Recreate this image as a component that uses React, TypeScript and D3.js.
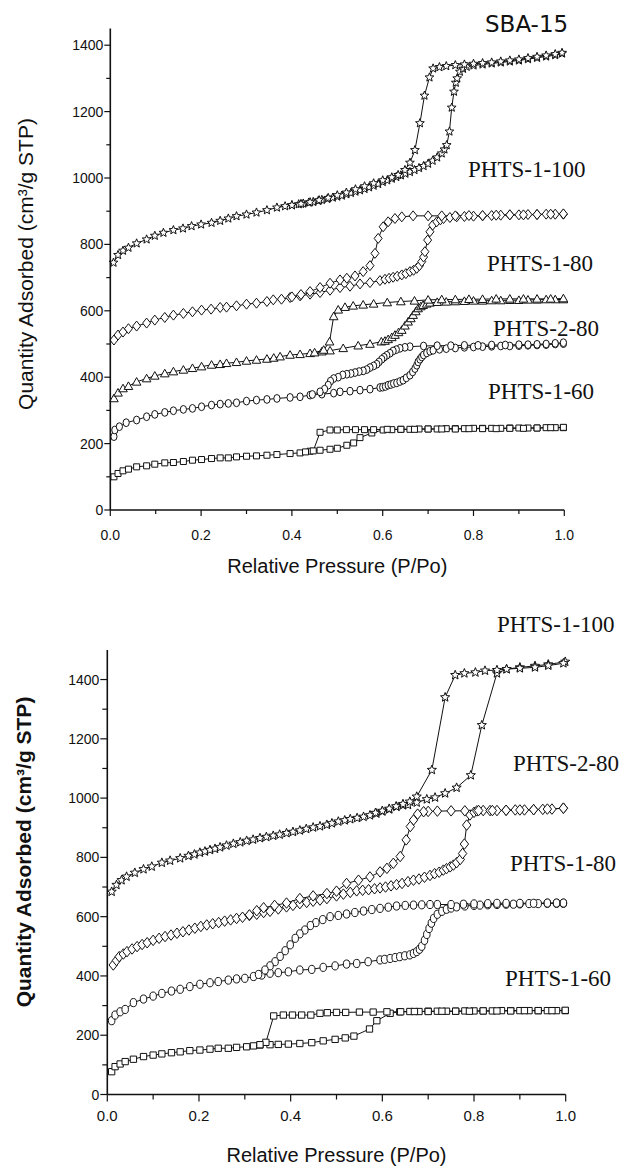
import React from "react";
import * as d3 from "d3";

type Pt = [number, number];

// ---------- Top panel (SBA-15) ----------
const topStarAds: Pt[] = [[0.007,745],[0.017,768],[0.028,781],[0.04,790],[0.058,803],[0.08,815],[0.098,826],[0.117,835],[0.139,843],[0.16,848],[0.179,855],[0.2,860],[0.223,865],[0.242,871],[0.26,878],[0.278,885],[0.3,890],[0.322,896],[0.345,903],[0.367,911],[0.385,915],[0.4,918],[0.415,921],[0.425,923],[0.437,926],[0.447,928],[0.458,931],[0.466,934],[0.478,937],[0.49,941],[0.5,944],[0.51,947],[0.52,951],[0.53,955],[0.54,959],[0.55,963],[0.56,967],[0.57,972],[0.58,977],[0.59,982],[0.6,988],[0.61,993],[0.62,998],[0.63,1003],[0.64,1008],[0.65,1013],[0.66,1018],[0.67,1024],[0.68,1030],[0.69,1036],[0.7,1043],[0.71,1052],[0.72,1062],[0.73,1074],[0.736,1086],[0.741,1099],[0.747,1140],[0.752,1212],[0.757,1260],[0.761,1287],[0.764,1300],[0.77,1320],[0.777,1329],[0.785,1335],[0.8,1339],[0.82,1342],[0.84,1345],[0.86,1348],[0.88,1351],[0.9,1354],[0.92,1358],[0.94,1362],[0.96,1366],[0.98,1370],[0.995,1375]];
const topStarDes: Pt[] = [[0.995,1377],[0.98,1373],[0.96,1369],[0.94,1365],[0.92,1361],[0.9,1357],[0.88,1354],[0.86,1351],[0.84,1348],[0.82,1346],[0.8,1344],[0.78,1342],[0.76,1340],[0.74,1337],[0.725,1334],[0.711,1330],[0.703,1303],[0.692,1248],[0.682,1165],[0.671,1084],[0.66,1046],[0.649,1024],[0.634,1009],[0.62,1002],[0.6,993],[0.58,984],[0.56,975],[0.54,966],[0.52,956],[0.5,948],[0.48,940],[0.46,933],[0.44,927],[0.42,922],[0.4,918]];

const topDiaAds: Pt[] = [[0.008,512],[0.017,527],[0.028,536],[0.04,546],[0.058,554],[0.08,563],[0.098,572],[0.12,580],[0.139,587],[0.161,592],[0.181,597],[0.201,602],[0.222,605],[0.242,610],[0.256,611],[0.278,615],[0.3,620],[0.322,623],[0.345,628],[0.359,633],[0.377,635],[0.396,640],[0.418,645],[0.44,650],[0.462,655],[0.484,662],[0.506,670],[0.528,674],[0.55,681],[0.572,685],[0.594,691],[0.605,695],[0.614,698],[0.623,701],[0.632,704],[0.642,708],[0.651,712],[0.66,718],[0.668,722],[0.675,728],[0.681,736],[0.686,748],[0.69,762],[0.693,778],[0.699,813],[0.704,838],[0.71,858],[0.719,868],[0.727,874],[0.734,878],[0.748,881],[0.763,883],[0.78,884],[0.8,885],[0.82,886],[0.84,887],[0.86,888],[0.88,889],[0.9,889],[0.92,890],[0.94,890],[0.96,891],[0.98,891],[0.998,891]];
const topDiaDes: Pt[] = [[0.998,892],[0.97,891],[0.94,890],[0.91,889],[0.88,889],[0.85,888],[0.82,887],[0.79,887],[0.76,886],[0.73,886],[0.7,886],[0.667,886],[0.642,883],[0.627,878],[0.612,868],[0.601,853],[0.59,818],[0.583,773],[0.572,736],[0.557,718],[0.539,705],[0.521,698],[0.506,693],[0.484,683],[0.462,670],[0.44,658],[0.42,649],[0.4,642]];

const topTriAds: Pt[] = [[0.008,336],[0.017,353],[0.028,366],[0.04,373],[0.058,386],[0.08,396],[0.098,404],[0.12,411],[0.139,417],[0.161,422],[0.181,427],[0.201,432],[0.223,437],[0.242,439],[0.256,442],[0.278,445],[0.3,449],[0.322,452],[0.345,455],[0.36,458],[0.374,462],[0.396,467],[0.418,469],[0.44,472],[0.466,477],[0.484,480],[0.513,487],[0.546,495],[0.572,500],[0.597,507],[0.605,509],[0.612,514],[0.62,520],[0.627,527],[0.635,535],[0.642,542],[0.649,555],[0.656,567],[0.662,577],[0.667,587],[0.673,598],[0.678,607],[0.684,613],[0.689,617],[0.697,621],[0.704,624],[0.72,626],[0.74,627],[0.76,628],[0.78,629],[0.8,630],[0.82,630],[0.84,631],[0.86,631],[0.88,632],[0.9,632],[0.92,633],[0.94,633],[0.96,634],[0.98,634],[0.998,634]];
const topTriDes: Pt[] = [[0.998,637],[0.97,636],[0.94,636],[0.91,636],[0.88,636],[0.85,636],[0.82,635],[0.79,635],[0.76,634],[0.73,634],[0.7,633],[0.67,630],[0.64,628],[0.61,625],[0.58,621],[0.557,618],[0.535,615],[0.517,611],[0.502,603],[0.492,583],[0.483,507],[0.47,482],[0.45,474]];

const topCirAds: Pt[] = [[0.008,221],[0.01,241],[0.02,251],[0.035,263],[0.058,271],[0.08,281],[0.098,288],[0.12,294],[0.139,299],[0.161,303],[0.181,306],[0.201,311],[0.223,316],[0.242,319],[0.26,321],[0.278,323],[0.3,328],[0.322,331],[0.345,333],[0.367,336],[0.396,339],[0.418,341],[0.44,346],[0.466,349],[0.492,352],[0.506,356],[0.528,358],[0.55,361],[0.572,364],[0.594,369],[0.6,370],[0.606,372],[0.612,376],[0.618,378],[0.624,381],[0.631,383],[0.638,387],[0.645,391],[0.652,398],[0.66,406],[0.666,416],[0.671,426],[0.675,436],[0.678,446],[0.682,454],[0.686,461],[0.69,467],[0.697,473],[0.704,478],[0.711,481],[0.725,484],[0.74,486],[0.76,488],[0.78,490],[0.8,491],[0.82,492],[0.84,493],[0.86,494],[0.88,494],[0.9,495],[0.92,496],[0.94,497],[0.96,498],[0.98,500],[0.998,501]];
const topCirDes: Pt[] = [[0.998,504],[0.98,502],[0.96,500],[0.94,499],[0.92,498],[0.9,498],[0.87,497],[0.84,497],[0.81,496],[0.78,496],[0.75,495],[0.72,495],[0.69,494],[0.66,492],[0.649,490],[0.638,487],[0.63,483],[0.623,479],[0.616,472],[0.609,466],[0.603,460],[0.598,454],[0.592,446],[0.587,439],[0.58,434],[0.572,429],[0.565,423],[0.557,419],[0.548,417],[0.539,414],[0.53,411],[0.521,409],[0.512,407],[0.502,400],[0.492,396],[0.485,388],[0.48,376],[0.472,364],[0.462,356],[0.445,348]];

const topSqAds: Pt[] = [[0.008,100],[0.017,110],[0.028,118],[0.04,123],[0.058,130],[0.08,133],[0.098,138],[0.12,142],[0.139,143],[0.161,146],[0.181,150],[0.201,152],[0.223,155],[0.242,157],[0.26,157],[0.278,160],[0.3,162],[0.322,163],[0.345,165],[0.367,167],[0.396,170],[0.418,172],[0.44,177],[0.462,180],[0.484,183],[0.5,186],[0.521,195],[0.536,202],[0.55,218],[0.576,232],[0.601,241],[0.62,242],[0.64,243],[0.66,243],[0.68,244],[0.7,244],[0.72,244],[0.74,245],[0.76,245],[0.78,245],[0.8,246],[0.82,246],[0.84,246],[0.86,246],[0.88,247],[0.9,247],[0.92,247],[0.94,247],[0.96,248],[0.98,248],[0.998,248]];
const topSqDes: Pt[] = [[0.998,249],[0.97,248],[0.94,247],[0.91,246],[0.88,246],[0.85,245],[0.82,245],[0.79,245],[0.76,244],[0.73,244],[0.7,244],[0.67,243],[0.64,243],[0.61,243],[0.58,242],[0.56,242],[0.54,242],[0.52,242],[0.5,241],[0.484,241],[0.462,234],[0.447,178],[0.43,175]];

// ---------- Bottom panel ----------
const botStarAds: Pt[] = [[0.0095,684],[0.02,707],[0.031,723],[0.042,735],[0.06,748],[0.079,760],[0.097,769],[0.119,782],[0.137,789],[0.159,797],[0.177,805],[0.19,810],[0.202,816],[0.213,820],[0.224,825],[0.235,829],[0.246,834],[0.26,840],[0.275,846],[0.29,851],[0.304,856],[0.318,860],[0.333,865],[0.347,869],[0.362,873],[0.376,877],[0.391,882],[0.405,886],[0.42,891],[0.434,896],[0.449,901],[0.464,905],[0.479,910],[0.49,915],[0.504,921],[0.518,925],[0.53,929],[0.545,933],[0.559,937],[0.573,942],[0.587,948],[0.6,955],[0.615,962],[0.631,971],[0.645,976],[0.656,977],[0.675,985],[0.697,996],[0.715,1002],[0.737,1016],[0.762,1035],[0.793,1077],[0.817,1246],[0.85,1421],[0.871,1435],[0.9,1441],[0.933,1446],[0.962,1451],[0.999,1460]];
const botStarDes: Pt[] = [[0.995,1455],[0.962,1447],[0.933,1441],[0.9,1438],[0.871,1435],[0.85,1432],[0.824,1430],[0.803,1424],[0.779,1421],[0.759,1415],[0.737,1340],[0.708,1095],[0.675,1005],[0.66,988],[0.645,980],[0.63,972],[0.615,964],[0.6,957],[0.585,950]];

const botDiaAds: Pt[] = [[0.013,437],[0.02,452],[0.026,465],[0.035,474],[0.043,482],[0.054,491],[0.065,499],[0.076,506],[0.087,512],[0.1,520],[0.113,527],[0.126,533],[0.139,538],[0.152,544],[0.165,549],[0.178,555],[0.191,561],[0.204,567],[0.217,572],[0.23,576],[0.243,580],[0.256,585],[0.269,589],[0.282,594],[0.295,598],[0.31,604],[0.326,608],[0.341,614],[0.355,618],[0.373,626],[0.391,633],[0.405,638],[0.42,644],[0.435,648],[0.449,652],[0.464,656],[0.479,661],[0.5,670],[0.515,676],[0.53,682],[0.544,687],[0.557,689],[0.57,691],[0.583,694],[0.595,697],[0.607,700],[0.619,704],[0.631,708],[0.643,712],[0.656,718],[0.668,723],[0.68,727],[0.692,733],[0.704,739],[0.714,745],[0.724,750],[0.733,757],[0.74,762],[0.748,768],[0.755,774],[0.762,782],[0.77,793],[0.775,813],[0.779,845],[0.784,909],[0.791,943],[0.8,952],[0.806,957],[0.82,958],[0.835,958],[0.85,958],[0.87,959],[0.89,960],[0.91,960],[0.93,961],[0.95,962],[0.97,963],[0.995,966]];
const botDiaDes: Pt[] = [[0.995,966],[0.96,963],[0.93,961],[0.9,960],[0.87,959],[0.84,958],[0.81,958],[0.78,957],[0.75,957],[0.72,956],[0.7,955],[0.69,954],[0.677,946],[0.668,926],[0.661,904],[0.652,859],[0.639,803],[0.624,780],[0.61,763],[0.595,751],[0.573,734],[0.548,723],[0.522,712],[0.5,686],[0.479,678],[0.449,670],[0.42,661],[0.391,646],[0.365,638],[0.341,630],[0.326,620],[0.31,606]];

const botCirAds: Pt[] = [[0.0095,249],[0.017,268],[0.028,279],[0.039,287],[0.057,310],[0.079,322],[0.1,332],[0.119,341],[0.14,349],[0.159,355],[0.18,364],[0.202,372],[0.224,377],[0.242,381],[0.264,386],[0.282,390],[0.3,392],[0.319,398],[0.337,403],[0.355,409],[0.373,411],[0.395,414],[0.42,420],[0.446,422],[0.471,429],[0.497,434],[0.522,440],[0.544,442],[0.569,448],[0.595,454],[0.605,456],[0.617,459],[0.628,462],[0.638,465],[0.649,468],[0.66,471],[0.668,476],[0.675,482],[0.681,490],[0.686,500],[0.692,520],[0.697,540],[0.702,560],[0.707,578],[0.712,594],[0.72,608],[0.73,618],[0.74,625],[0.75,629],[0.762,633],[0.78,636],[0.8,638],[0.813,639],[0.83,640],[0.85,641],[0.87,642],[0.886,642],[0.9,643],[0.92,644],[0.94,644],[0.96,645],[0.98,645],[0.995,645]];
const botCirDes: Pt[] = [[0.995,646],[0.98,646],[0.96,646],[0.93,645],[0.9,645],[0.87,645],[0.85,645],[0.83,644],[0.8,643],[0.777,642],[0.75,641],[0.72,641],[0.704,641],[0.686,640],[0.668,639],[0.65,638],[0.631,636],[0.613,632],[0.595,628],[0.577,624],[0.559,619],[0.54,614],[0.522,609],[0.504,604],[0.486,600],[0.47,590],[0.455,580],[0.443,570],[0.431,555],[0.42,542],[0.41,527],[0.399,505],[0.388,485],[0.377,466],[0.366,448],[0.355,434],[0.344,420],[0.33,405]];

const botSqAds: Pt[] = [[0.0095,77],[0.017,94],[0.028,103],[0.039,111],[0.057,119],[0.079,128],[0.1,133],[0.119,137],[0.14,141],[0.159,144],[0.18,148],[0.202,150],[0.224,153],[0.242,156],[0.264,156],[0.282,159],[0.304,161],[0.319,164],[0.333,167],[0.355,168],[0.373,169],[0.395,170],[0.42,172],[0.446,175],[0.471,181],[0.497,186],[0.519,191],[0.538,197],[0.572,221],[0.588,249],[0.617,274],[0.638,279],[0.66,280],[0.68,280],[0.7,281],[0.72,281],[0.74,281],[0.76,281],[0.78,282],[0.8,282],[0.82,282],[0.84,282],[0.86,283],[0.88,283],[0.9,283],[0.92,283],[0.94,283],[0.96,283],[0.98,283],[0.999,283]];
const botSqDes: Pt[] = [[0.999,284],[0.97,283],[0.94,283],[0.91,283],[0.88,282],[0.85,282],[0.82,282],[0.79,281],[0.76,281],[0.73,281],[0.7,280],[0.67,280],[0.64,279],[0.61,279],[0.58,278],[0.55,278],[0.52,277],[0.5,277],[0.48,276],[0.464,274],[0.444,268],[0.424,268],[0.404,268],[0.384,268],[0.363,265],[0.346,176],[0.333,168]];

const xTickValues = [0, 0.2, 0.4, 0.6, 0.8, 1.0];
const xMinorValues = [0.1, 0.3, 0.5, 0.7, 0.9];
const yTickValues = [0, 200, 400, 600, 800, 1000, 1200, 1400];
const yMinorValues = [100, 300, 500, 700, 900, 1100, 1300];

const topLabels = ["PHTS-1-100", "PHTS-1-80", "PHTS-2-80", "PHTS-1-60"];
const botLabels = ["PHTS-1-100", "PHTS-2-80", "PHTS-1-80", "PHTS-1-60"];

type Kind = "star" | "diamond" | "triangle" | "circle" | "square";

function starPath(R: number, r: number): string {
  const pts: string[] = [];
  for (let i = 0; i < 10; i++) {
    const a = -Math.PI / 2 + (i * Math.PI) / 5;
    const rad = i % 2 === 0 ? R : r;
    pts.push(`${(Math.cos(a) * rad).toFixed(2)},${(Math.sin(a) * rad).toFixed(2)}`);
  }
  return "M" + pts.join("L") + "Z";
}

function markerPath(kind: Kind, s: number): string {
  switch (kind) {
    case "star": return starPath(4.6 * s, 2.0 * s);
    case "diamond": return `M0,${-5 * s}L${4 * s},0L0,${5 * s}L${-4 * s},0Z`;
    case "triangle": return `M0,${-4.3 * s}L${4.3 * s},${3.3 * s}L${-4.3 * s},${3.3 * s}Z`;
    case "circle": {
      const rx = 3.1 * s, ry = 3.9 * s;
      return `M${-rx},0A${rx},${ry} 0 1,0 ${rx},0A${rx},${ry} 0 1,0 ${-rx},0Z`;
    }
    default: return `M${-3 * s},${-3 * s}H${3 * s}V${3 * s}H${-3 * s}Z`;
  }
}

interface Series { kind: Kind; branches: Pt[][]; }

interface PanelProps {
  x0: number; x1: number; yBottom: number; yTop: number; yMax: number;
  series: Series[];
  xTickFont: number; xTickBase: number; yTickFont: number;
  majorLen: number; minorLen: number;
  xLabel: string; xLabelY: number;
  yLabel: string; yLabelX: number; yLabelY: number; yLabelBold: boolean;
  markerScale: number;
}

function Panel(p: PanelProps) {
  const x = d3.scaleLinear().domain([0, 1]).range([p.x0, p.x1]);
  const y = d3.scaleLinear().domain([0, p.yMax]).range([p.yBottom, p.yTop]);
  const line = d3.line<Pt>().x((d) => x(d[0])).y((d) => y(d[1]));
  const sans = "'Liberation Sans', Arial, sans-serif";
  const ink = "#111";
  return (
    <g>
      {p.series.map((s, si) => (
        <g key={si}>
          {s.branches.map((b, bi) => (
            <path key={bi} d={line(b) || ""} fill="none" stroke={ink} strokeWidth={1} />
          ))}
          {s.branches.map((b, bi) => (
            <g key={"m" + bi}>
              {b.map((d, i) => (
                <path key={i} d={markerPath(s.kind, p.markerScale)}
                  transform={`translate(${x(d[0]).toFixed(2)},${y(d[1]).toFixed(2)})`}
                  fill="#fff" stroke={ink} strokeWidth={1} />
              ))}
            </g>
          ))}
        </g>
      ))}
      <line x1={x(0)} x2={x(0)} y1={y(0)} y2={y(p.yMax)} stroke={ink} strokeWidth={1.6} />
      <line x1={x(0)} x2={x(1)} y1={y(0)} y2={y(0)} stroke={ink} strokeWidth={1.6} />
      {yTickValues.map((v) => (
        <g key={"yt" + v}>
          <line x1={x(0) - p.majorLen} x2={x(0)} y1={y(v)} y2={y(v)} stroke={ink} strokeWidth={1.2} />
          <text x={x(0) - p.majorLen - 1} y={y(v)} dy="0.36em" textAnchor="end"
            fontFamily={sans} fontSize={p.yTickFont} fill={ink}>{v}</text>
        </g>
      ))}
      {yMinorValues.map((v) => (
        <line key={"ym" + v} x1={x(0) - p.minorLen} x2={x(0)} y1={y(v)} y2={y(v)} stroke={ink} strokeWidth={1.2} />
      ))}
      {xTickValues.map((v) => (
        <g key={"xt" + v}>
          <line x1={x(v)} x2={x(v)} y1={y(0)} y2={y(0) + p.majorLen} stroke={ink} strokeWidth={1.2} />
          <text x={x(v)} y={p.xTickBase} textAnchor="middle"
            fontFamily={sans} fontSize={p.xTickFont} fill={ink}>{v.toFixed(1)}</text>
        </g>
      ))}
      {xMinorValues.map((v) => (
        <line key={"xm" + v} x1={x(v)} x2={x(v)} y1={y(0)} y2={y(0) + p.minorLen} stroke={ink} strokeWidth={1.2} />
      ))}
      <text x={(p.x0 + p.x1) / 2} y={p.xLabelY} textAnchor="middle" fontFamily={sans} fontSize={20} fill={ink}>{p.xLabel}</text>
      <text transform={`translate(${p.yLabelX},${p.yLabelY}) rotate(-90)`} textAnchor="middle"
        fontFamily={sans} fontSize={21} fontWeight={p.yLabelBold ? "bold" : "normal"} fill={ink}>{p.yLabel}</text>
    </g>
  );
}

export default function App() {
  const serif = "'Liberation Serif', 'Times New Roman', serif";
  const yLabel = "Quantity Adsorbed (cm³/g STP)";
  const xLabel = "Relative Pressure (P/Po)";
  const topSeries: Series[] = [
    { kind: "square", branches: [topSqAds, topSqDes] },
    { kind: "circle", branches: [topCirAds, topCirDes] },
    { kind: "triangle", branches: [topTriAds, topTriDes] },
    { kind: "diamond", branches: [topDiaAds, topDiaDes] },
    { kind: "star", branches: [topStarAds, topStarDes] },
  ];
  const botSeries: Series[] = [
    { kind: "square", branches: [botSqAds, botSqDes] },
    { kind: "circle", branches: [botCirAds, botCirDes] },
    { kind: "diamond", branches: [botDiaAds, botDiaDes] },
    { kind: "star", branches: [botStarAds, botStarDes] },
  ];
  const topLabelPos: [number, number][] = [[468, 177], [487, 271], [493, 336], [488, 399]];
  const botLabelPos: [number, number][] = [[497, 632], [513, 771], [510, 871], [505, 986]];
  return (
    <svg width={620} height={1167} viewBox="0 0 620 1167"
      style={{ position: "absolute", left: 0, top: 0, background: "#fff" }}>
      <rect x={0} y={0} width={620} height={1167} fill="#fff" />
      <Panel x0={110.3} x1={564.3} yBottom={510} yTop={28.6} yMax={1450}
        series={topSeries} xTickFont={14} xTickBase={540} yTickFont={14}
        majorLen={6} minorLen={4} xLabel={xLabel} xLabelY={573}
        yLabel={yLabel} yLabelX={33} yLabelY={264} yLabelBold={false} markerScale={1} />
      <Panel x0={107.3} x1={565.7} yBottom={1094.5} yTop={649.9} yMax={1500}
        series={botSeries} xTickFont={15} xTickBase={1121} yTickFont={14}
        majorLen={7} minorLen={5} xLabel={xLabel} xLabelY={1162}
        yLabel={yLabel} yLabelX={31} yLabelY={852} yLabelBold={true} markerScale={1.05} />
      <text x={485} y={32} fontFamily="'DejaVu Sans', Verdana, sans-serif" fontSize={23} fill="#111">SBA-15</text>
      {topLabels.map((t, i) => (
        <text key={"tl" + i} x={topLabelPos[i][0]} y={topLabelPos[i][1]} fontFamily={serif} fontSize={23} fill="#111">{t}</text>
      ))}
      {botLabels.map((t, i) => (
        <text key={"bl" + i} x={botLabelPos[i][0]} y={botLabelPos[i][1]} fontFamily={serif} fontSize={23} fill="#111">{t}</text>
      ))}
    </svg>
  );
}
